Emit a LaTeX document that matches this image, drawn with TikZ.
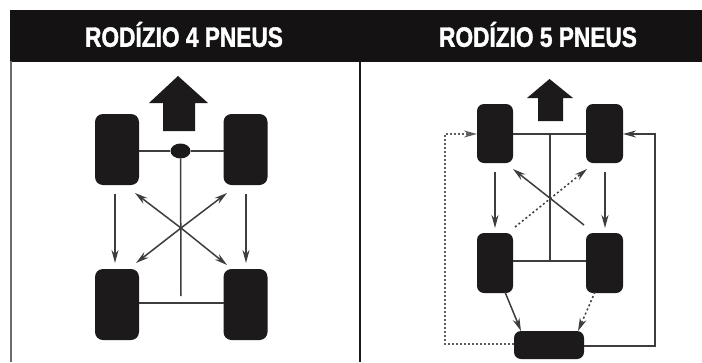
\documentclass[tikz,border=0pt]{standalone}
\usepackage{fontspec}
\setmainfont[BoldFeatures={FakeBold=1.6}]{Liberation Sans}
\usetikzlibrary{arrows.meta,shapes.geometric}
\definecolor{ink}{HTML}{1C1A1B}
\definecolor{barc}{HTML}{141213}
\tikzset{x=1pt,y=-1pt,
  tyre/.style={fill=ink,draw=none,rounded corners=8pt,inner sep=0,outer sep=0},
  bar/.style={fill=barc,draw=none,inner sep=0,outer sep=0},
  title/.style={text=white,inner sep=0,font=\bfseries\fontsize{28pt}{28pt}\selectfont},
  link/.style={draw=ink!85!white,line width=1.5pt},
  mv/.style={link,-{Stealth[length=13pt,width=7pt]}},
  dot/.style={mv,dash pattern=on 2pt off 2.5pt},
  dotline/.style={link,line width=1.3pt,dash pattern=on 2pt off 2pt,draw=ink!70!white},
  bigarrow/.style={fill=ink,draw=none}}
\begin{document}
\begin{tikzpicture}
\useasboundingbox (0,0) rectangle (702,362);
\fill[white] (0,0) rectangle (702,362);
% frame
\node[bar,anchor=north west,minimum width=692pt,minimum height=52pt] (hdr) at (10,9.5) {};
\draw[draw=ink!65!white,line width=1.8pt] (11,61) -- (11,362);
\draw[draw=ink,line width=1.3pt] (360,61) -- (360,362);
\node[title] (t4) at (184,34.5) {\scalebox{0.81}[1]{RODÍZIO 4 PNEUS}};
\node[title] (t5) at (538,34.5) {\scalebox{0.81}[1]{RODÍZIO 5 PNEUS}};
% left panel
\fill[bigarrow] (178,76) -- (208,103) -- (195,103) -- (195,131) -- (163,131) -- (163,103) -- (149,103) -- cycle;
\node[tyre,minimum width=44pt,minimum height=71pt] (fl) at (117,149.5) {};
\node[tyre,minimum width=44pt,minimum height=71pt] (fr) at (245.5,149.5) {};
\node[tyre,minimum width=44pt,minimum height=71pt] (rl) at (117,304.5) {};
\node[tyre,minimum width=44pt,minimum height=71pt] (rr) at (245.5,304.5) {};
\node[ellipse,fill=ink,inner sep=0,minimum width=20pt,minimum height=15pt] (hub) at (180.5,151) {};
\coordinate (c4) at (181,228);
\coordinate (sp4) at (181,296);
\coordinate (ax4) at (181,303);
\coordinate (a1) at (115,194); \coordinate (a2) at (115,263);
\coordinate (b1) at (246,194); \coordinate (b2) at (246,263);
\coordinate (d1) at (135,193); \coordinate (d2) at (227,193);
\coordinate (d3) at (136,263); \coordinate (d4) at (227,265);
\draw[link] (fl.east |- hub) -- (hub);
\draw[link] (hub) -- (fr.west |- hub);
\draw[link] (hub) -- (sp4);
\draw[link] (rl.east |- ax4) -- (rr.west |- ax4);
\draw[mv] (a1) -- (a2);
\draw[mv] (b1) -- (b2);
\draw[mv] (c4) -- (d1);
\draw[mv] (c4) -- (d2);
\draw[mv] (c4) -- (d3);
\draw[mv] (c4) -- (d4);
% right panel
\fill[bigarrow] (549.5,79) -- (573,98) -- (563,98) -- (563,121) -- (538,121) -- (538,98) -- (527,98) -- cycle;
\node[tyre,minimum width=36pt,minimum height=59pt,rounded corners=7pt] (gfl) at (495,133.5) {};
\node[tyre,minimum width=37pt,minimum height=59pt,rounded corners=7pt] (gfr) at (604.5,133.5) {};
\node[tyre,minimum width=36pt,minimum height=60pt,rounded corners=7pt] (grl) at (495,263) {};
\node[tyre,minimum width=37pt,minimum height=60pt,rounded corners=7pt] (grr) at (604.5,263) {};
\node[tyre,minimum width=70pt,minimum height=28pt,rounded corners=7pt] (spare) at (549,345) {};
\coordinate (top5) at (550,134);
\coordinate (low5) at (550,261);
\coordinate (c5) at (550,198);
\coordinate (e1) at (495,172); \coordinate (e2) at (495,228);
\coordinate (f1) at (605,172); \coordinate (f2) at (605,228);
\coordinate (g1) at (584,225); \coordinate (g2) at (513,169);
\coordinate (h1) at (515,227); \coordinate (h2) at (587,169);
\coordinate (k1) at (505,292); \coordinate (k2) at (521,331);
\coordinate (m1) at (595,292); \coordinate (m2) at (578,331);
\coordinate (rc1) at (655,346); \coordinate (rc2) at (655,134);
\coordinate (lc1) at (445,344); \coordinate (lc2) at (445,134);
\draw[link] (gfl.east |- top5) -- (gfr.west |- top5);
\draw[link] (grl.east |- low5) -- (grr.west |- low5);
\draw[link] (top5) -- (low5);
\draw[mv] (e1) -- (e2);
\draw[mv] (f1) -- (f2);
\draw[mv] (g1) -- (g2);
\draw[dot] (h1) -- (h2);
\draw[mv] (k1) -- (k2);
\draw[dot] (m1) -- (m2);
\draw[mv] (spare.east |- rc1) -- (rc1) -- (rc2) -- (gfr.east |- rc2);
\draw[dotline,-{Stealth[length=13pt,width=7pt,fill=ink]}] (spare.west |- lc1) -- (lc1) -- (lc2) -- (gfl.west |- lc2);
\end{tikzpicture}
\end{document}
